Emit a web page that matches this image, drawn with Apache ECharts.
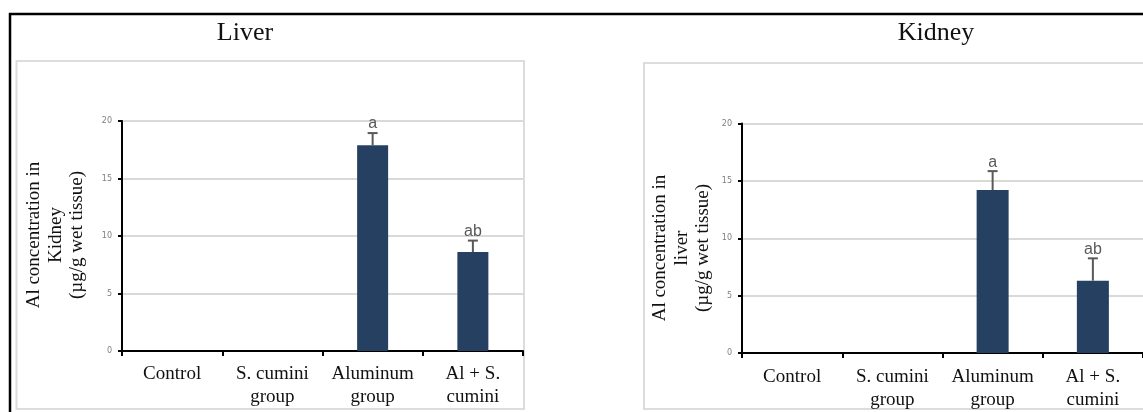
<!DOCTYPE html>
<html>
<head>
<meta charset="utf-8">
<script src="https://cdn.jsdelivr.net/npm/echarts@6/dist/echarts.min.js"></script>
<style>
html,body{margin:0;padding:0;background:#fff;}
#chart{width:1143px;height:412px;}
</style>
</head>
<body>
<div id="chart"></div>
<script>
// ---- data ----
var categories = ['Control', 'S. cumini\ngroup', 'Aluminum\ngroup', 'Al + S.\ncumini'];
var liverValues = [0, 0, 17.9, 8.6];
var liverErrors = [0, 0, 1.05, 1.0];
var liverLetters = ['', '', 'a', 'ab'];
var kidneyValues = [0, 0, 14.2, 6.3];
var kidneyErrors = [0, 0, 1.65, 1.95];
var kidneyLetters = ['', '', 'a', 'ab'];
var yTicks = [0, 5, 10, 15, 20];
var panelTitles = ['Liver', 'Kidney'];
var yTitleLiverPanel = ['Al concentration in', 'Kidney', '(µg/g wet tissue)'];
var yTitleKidneyPanel = ['Al concentration in', 'liver', '(µg/g wet tissue)'];

// ---- styles ----
var SERIF = '"Liberation Serif", "Times New Roman", serif';
var BAR_COLOR = '#264062';
var GRID_COLOR = '#d9d9d9';
var ERR_COLOR = '#595959';

var chart = echarts.init(document.getElementById('chart'), null, {renderer: 'canvas'});

function errorSeries(gridIdx, values, errors, letters) {
  var data = values.map(function (v, i) { return [i, v, errors[i]]; });
  return {
    type: 'custom',
    xAxisIndex: gridIdx,
    yAxisIndex: gridIdx,
    data: data,
    z: 5,
    renderItem: function (params, api) {
      var idx = api.value(0), val = api.value(1), err = api.value(2);
      if (!err) return null;
      var base = api.coord([idx, val]);
      var top = api.coord([idx, val + err]);
      var half = 5;
      return {
        type: 'group',
        children: [
          {type: 'line', shape: {x1: base[0], y1: base[1], x2: top[0], y2: top[1]},
           style: {stroke: ERR_COLOR, lineWidth: 2}},
          {type: 'line', shape: {x1: top[0] - half, y1: top[1], x2: top[0] + half, y2: top[1]},
           style: {stroke: ERR_COLOR, lineWidth: 2}},
          {type: 'text', style: {text: letters[params.dataIndex], x: top[0], y: top[1] - 1,
            align: 'center', verticalAlign: 'bottom', fill: ERR_COLOR,
            font: '16px "Liberation Sans", Arial, sans-serif'}}
        ]
      };
    }
  };
}

function xAxisCfg(gridIdx, margin) {
  return {
    type: 'category', gridIndex: gridIdx, data: categories,
    axisLine: {lineStyle: {color: '#000', width: 2}},
    axisTick: {show: true, length: 5, lineStyle: {color: '#000', width: 2}},
    axisLabel: {interval: 0, margin: margin, fontFamily: SERIF, fontSize: 19, lineHeight: 23, color: '#111'},
    splitLine: {show: false}
  };
}
function yAxisCfg(gridIdx) {
  return {
    type: 'value', gridIndex: gridIdx, min: yTicks[0], max: yTicks[yTicks.length - 1],
    interval: yTicks[1] - yTicks[0],
    axisLine: {show: true, lineStyle: {color: '#000', width: 2}},
    axisTick: {show: true, length: 4, lineStyle: {color: '#000', width: 2}},
    axisLabel: {margin: 10, fontFamily: '"DejaVu Sans", Verdana, sans-serif', fontSize: 8, color: '#7f7f7f'},
    splitLine: {show: true, lineStyle: {color: GRID_COLOR, width: 2}}
  };
}

function yTitle(lines, cx, cy) {
  var spacing = 21.5;
  return lines.map(function (t, k) {
    return {
      type: 'text', x: cx + (k - 1) * spacing, y: cy, rotation: Math.PI / 2,
      style: {text: t, align: 'center', verticalAlign: 'middle', fill: '#111',
        font: '19px ' + SERIF}
    };
  });
}

var graphics = [
  // outer black frame (top & left)
  {type: 'polyline', shape: {points: [[10, 420], [10, 14], [1150, 14]]},
   style: {stroke: '#000', lineWidth: 2.5, fill: null}, z: 0},
  // light grey chart boxes
  {type: 'rect', shape: {x: 16.5, y: 61, width: 507.5, height: 348},
   style: {stroke: '#dcdcdc', lineWidth: 2, fill: null}, z: 0},
  {type: 'rect', shape: {x: 644, y: 63, width: 600, height: 346},
   style: {stroke: '#dcdcdc', lineWidth: 2, fill: null}, z: 0},
  {type: 'text', x: 245, y: 33, style: {text: panelTitles[0], align: 'center', verticalAlign: 'middle',
    fill: '#111', font: '26px ' + SERIF}},
  {type: 'text', x: 936, y: 33, style: {text: panelTitles[1], align: 'center', verticalAlign: 'middle',
    fill: '#111', font: '26px ' + SERIF}}
].concat(yTitle(yTitleLiverPanel, 56, 235)).concat(yTitle(yTitleKidneyPanel, 682, 248));

var option = {
  backgroundColor: '#fff',
  animation: false,
  grid: [
    {left: 122, top: 121, width: 401, height: 230},
    {left: 742, top: 123.5, width: 408, height: 230}
  ],
  xAxis: [xAxisCfg(0, 12), xAxisCfg(1, 13)],
  yAxis: [yAxisCfg(0), yAxisCfg(1)],
  graphic: graphics,
  series: [
    {type: 'bar', xAxisIndex: 0, yAxisIndex: 0, data: liverValues, barWidth: 31,
     itemStyle: {color: BAR_COLOR}, z: 3},
    {type: 'bar', xAxisIndex: 1, yAxisIndex: 1, data: kidneyValues, barWidth: 32,
     itemStyle: {color: BAR_COLOR}, z: 3},
    errorSeries(0, liverValues, liverErrors, liverLetters),
    errorSeries(1, kidneyValues, kidneyErrors, kidneyLetters)
  ]
};
chart.setOption(option);
</script>
</body>
</html>
